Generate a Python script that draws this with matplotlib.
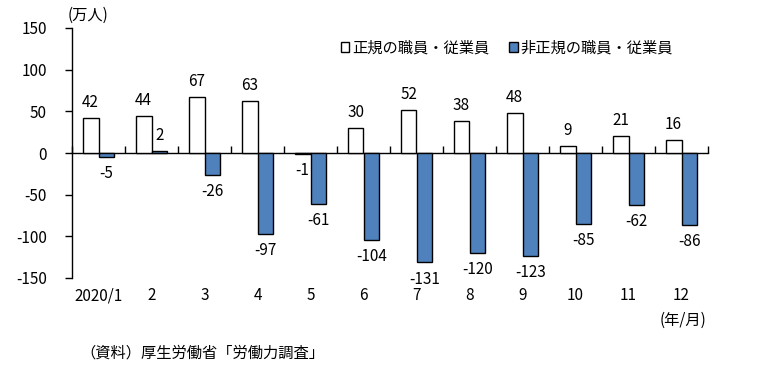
import numpy as np
import matplotlib
matplotlib.use("Agg")
import matplotlib.pyplot as plt
from matplotlib.patches import Patch
from matplotlib.transforms import blended_transform_factory

plt.rcParams['font.family'] = ['Noto Sans CJK JP', 'DejaVu Sans']
plt.rcParams['axes.unicode_minus'] = False

# ─── data (万人, 前年同月差) ───
months = ['2020/1', '2', '3', '4', '5', '6', '7', '8', '9', '10', '11', '12']
regular = [42, 44, 67, 63, -1, 30, 52, 38, 48, 9, 21, 16]
non_regular = [-5, 2, -26, -97, -61, -104, -131, -120, -123, -85, -62, -86]
series_names = ['正規の職員・従業員', '非正規の職員・従業員']
yticks = [-150, -100, -50, 0, 50, 100, 150]

BLUE = '#4F81BD'
FS = 11

fig = plt.figure(figsize=(7.6, 3.69), dpi=100)
ax = fig.add_axes([72 / 760, 1 - 278 / 369, 636 / 760, 250 / 369])

x = np.arange(len(months))
w = 0.3
ax.bar(x - w / 2, regular, w, color='white', edgecolor='black', linewidth=1.0, zorder=3)
ax.bar(x + w / 2, non_regular, w, color=BLUE, edgecolor='black', linewidth=1.0, zorder=3)

# value labels: above positive bars, below negative ones
for xs, vals in ((x - w / 2, regular), (x + w / 2, non_regular)):
    for xi, v in zip(xs, vals):
        if v >= 0:
            ax.annotate(str(v), xy=(xi, v), xytext=(0, 5), textcoords='offset points',
                        ha='center', va='bottom', fontsize=FS)
        else:
            ax.annotate(str(v), xy=(xi, v), xytext=(0, -6), textcoords='offset points',
                        ha='center', va='top', fontsize=FS)

ax.set_xlim(-0.5, len(months) - 0.5)
ax.set_ylim(-150, 150)
ax.set_yticks(yticks)
ax.tick_params(axis='y', direction='out', length=5, width=1, pad=13, labelsize=FS)

# x axis drawn on the zero line, boundary ticks pointing up
for s in ('top', 'right'):
    ax.spines[s].set_visible(False)
ax.spines['bottom'].set_position(('data', 0))
ax.spines['left'].set_linewidth(1)
ax.spines['bottom'].set_linewidth(1)
ax.set_xticks(np.arange(-0.5, len(months), 1.0))
ax.set_xticklabels([])
ax.tick_params(axis='x', direction='in', length=5, width=1)

# month labels below the plot area
trans = blended_transform_factory(ax.transData, ax.transAxes)
for xi, m in zip(x, months):
    ax.text(xi, -18 / 250, m, transform=trans, ha='center', va='center', fontsize=FS)

handles = [Patch(facecolor='white', edgecolor='black', linewidth=1),
           Patch(facecolor=BLUE, edgecolor='black', linewidth=1)]
fig.legend(handles, series_names, loc='center', bbox_to_anchor=(507 / 760, 1 - 48 / 369),
           ncol=2, frameon=False, fontsize=FS, handlelength=0.55, handleheight=0.55,
           handletextpad=0.2, columnspacing=1.3)

fig.text(88 / 760, 1 - 15 / 369, '(万人)', ha='center', va='center', fontsize=FS)
fig.text(683 / 760, 1 - 320 / 369, '(年/月)', ha='center', va='center', fontsize=FS)
fig.text(80 / 760, 1 - 353 / 369, '（資料）厚生労働省「労働力調査」', ha='left', va='center', fontsize=FS)

fig.savefig('out.png', dpi=100)
